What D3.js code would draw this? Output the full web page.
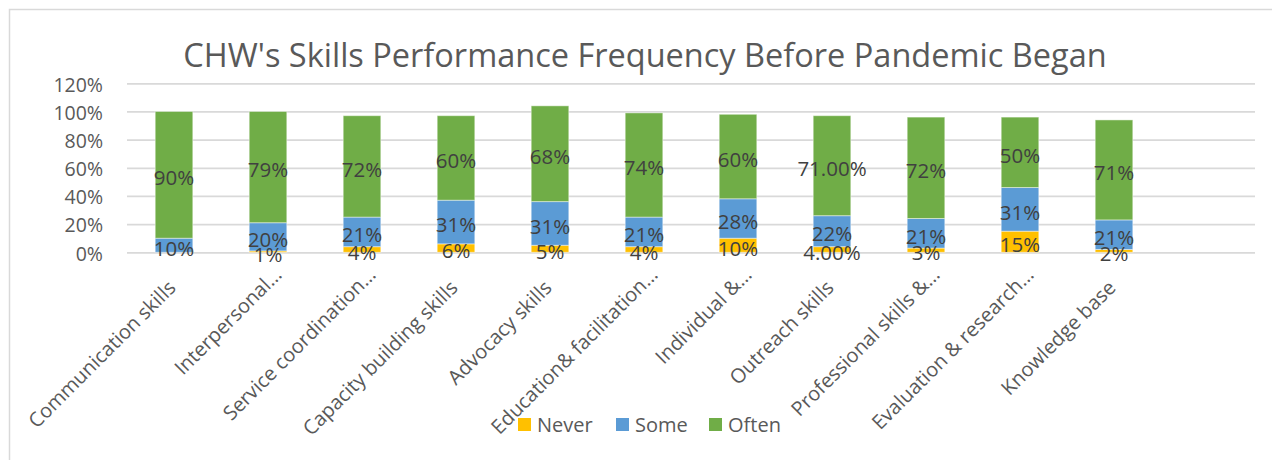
<!DOCTYPE html>
<html>
<head>
<meta charset="utf-8">
<script src="https://cdn.jsdelivr.net/npm/d3@7"></script>
<style>
  html, body { margin: 0; padding: 0; background: #ffffff; }
  svg { display: block; font-family: "Open Sans", "DejaVu Sans", sans-serif; }
</style>
</head>
<body>
<svg id="chart" width="1272" height="460"></svg>
<script>
// Skill categories (the trailing blank slot is an empty category position on the axis)
const categories = [
  "Communication skills",
  "Interpersonal…",
  "Service coordination…",
  "Capacity building skills",
  "Advocacy skills",
  "Education& facilitation…",
  "Individual &…",
  "Outreach skills",
  "Professional skills &…",
  "Evaluation & research…",
  "Knowledge base",
  ""
];

const seriesNames = ["Never", "Some", "Often"];
const seriesColors = ["#FFC000", "#5B9BD5", "#70AD47"];

// Share of CHWs reporting each frequency, per skill
const neverValues = [0.00, 0.01, 0.04, 0.06, 0.05, 0.04, 0.10, 0.04, 0.03, 0.15, 0.02];
const someValues  = [0.10, 0.20, 0.21, 0.31, 0.31, 0.21, 0.28, 0.22, 0.21, 0.31, 0.21];
const oftenValues = [0.90, 0.79, 0.72, 0.60, 0.68, 0.74, 0.60, 0.71, 0.72, 0.50, 0.71];

// Skills whose Never/Often labels are printed with two decimals
const twoDecimalSkills = ["Outreach skills"];

const yTicks = [0, 0.2, 0.4, 0.6, 0.8, 1.0, 1.2];

const svg = d3.select("#chart");

// Chart frame
svg.append("rect")
  .attr("x", 9.5).attr("y", 9.5)
  .attr("width", 1400).attr("height", 600)
  .attr("fill", "#ffffff")
  .attr("stroke", "#d9d9d9").attr("stroke-width", 1.5);

// Title
svg.append("text")
  .attr("x", 645).attr("y", 67)
  .attr("text-anchor", "middle")
  .attr("fill", "#595959")
  .attr("font-size", 32.5)
  .text("CHW's Skills Performance Frequency Before Pandemic Began");

const x = d3.scaleBand()
  .domain(d3.range(categories.length))
  .range([127, 1255])
  .paddingInner(0.6)
  .paddingOuter(0.3);

const y = d3.scaleLinear().domain([0, 1.2]).range([252.3, 83.3]);

// Gridlines
const yAxis = d3.axisLeft(y)
  .tickValues(yTicks)
  .tickSize(-(1255 - 127))
  .tickPadding(24)
  .tickFormat(d3.format(".0%"));

const gy = svg.append("g")
  .attr("transform", "translate(127,0)")
  .call(yAxis);
gy.select(".domain").remove();
gy.selectAll(".tick line")
  .attr("stroke", "#d9d9d9")
  .attr("stroke-width", 1.75);
gy.selectAll(".tick text")
  .attr("fill", "#595959")
  .attr("font-size", 19.5)
  .attr("dy", "0.4em")
  .attr("font-family", "'Open Sans', sans-serif");

// Stack the three series
const rows = neverValues.map((_, i) => ({
  idx: i,
  Never: neverValues[i],
  Some: someValues[i],
  Often: oftenValues[i]
}));
const stacked = d3.stack().keys(seriesNames)(rows);

const barsG = svg.append("g");
stacked.forEach((layer, si) => {
  barsG.append("g")
    .selectAll("rect")
    .data(layer)
    .join("rect")
    .attr("x", d => x(d.data.idx))
    .attr("width", x.bandwidth())
    .attr("y", d => y(d[1]))
    .attr("height", d => Math.max(0, y(d[0]) - y(d[1])))
    .attr("fill", seriesColors[si])
    .attr("stroke", "#ffffff")
    .attr("stroke-opacity", 0.45)
    .attr("stroke-width", 1);
});

// Data labels, centred in each segment
const pct0 = d3.format(".0%");
const pct2 = d3.format(".2%");
const labelsG = svg.append("g");
stacked.forEach((layer, si) => {
  labelsG.append("g")
    .selectAll("text")
    .data(layer.filter(d => d[1] - d[0] > 0))
    .join("text")
    .attr("x", d => x(d.data.idx) + x.bandwidth() / 2)
    .attr("y", d => y((d[0] + d[1]) / 2))
    .attr("dy", "0.5em")
    .attr("text-anchor", "middle")
    .attr("fill", "#404040")
    .attr("font-size", 20.5)
    .text(d => {
      const v = d[1] - d[0];
      const twoDec = twoDecimalSkills.includes(categories[d.data.idx]) && seriesNames[si] !== "Some";
      return twoDec ? pct2(v) : pct0(v);
    });
});

// Category labels, rotated 45 degrees
const catG = svg.append("g");
categories.forEach((name, i) => {
  if (!name) return;
  const truncated = name.endsWith("…");
  const cx = x(i) + x.bandwidth() / 2;
  const ax = cx + (truncated ? 15 : 3);
  const ay = truncated ? 276 : 289;
  catG.append("text")
    .attr("transform", `translate(${ax},${ay}) rotate(-45)`)
    .attr("text-anchor", "end")
    .attr("fill", "#595959")
    .attr("font-size", 20)
    .text(name);
});

// Legend
const legendItems = seriesNames.map((n, i) => ({ name: n, color: seriesColors[i] }));
const legendX = [518, 616, 709];
const lg = svg.append("g");
legendItems.forEach((item, i) => {
  lg.append("rect")
    .attr("x", legendX[i]).attr("y", 418)
    .attr("width", 13).attr("height", 13)
    .attr("fill", item.color);
  lg.append("text")
    .attr("x", legendX[i] + 19).attr("y", 432)
    .attr("fill", "#595959")
    .attr("font-size", 20)
    .text(item.name);
});
</script>
</body>
</html>
